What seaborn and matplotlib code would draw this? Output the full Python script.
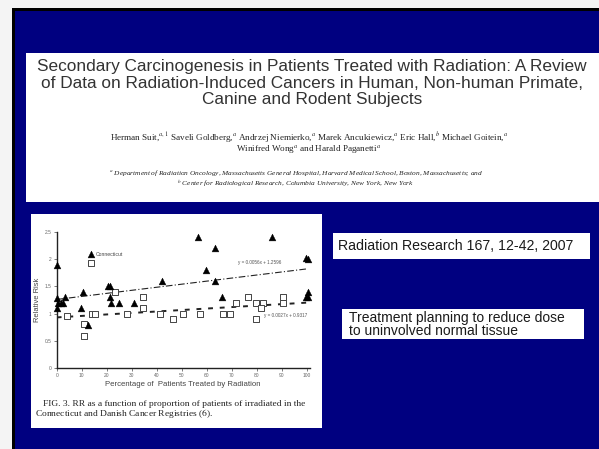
import numpy as np
import pandas as pd
import matplotlib
matplotlib.use("Agg")
import matplotlib.pyplot as plt
from matplotlib.patches import Rectangle
import seaborn as sns

# Connecticut registry (filled triangles)
tri_x = [0, 0, 0, 0.7, 1.6, 2.7, 3.5, 9.7, 10.4, 12.6, 13.7, 20.6, 21.4, 21.3, 21.5,
         25, 30.9, 42, 56.5, 59.6, 63.4, 63.3, 66, 85.9, 99.5, 100.5, 99.5, 100.5, 100.5]
tri_y = [1.89, 1.28, 1.1, 1.2, 1.2, 1.2, 1.3, 1.1, 1.4, 0.8, 2.09, 1.5, 1.5, 1.3, 1.2,
         1.2, 1.2, 1.6, 2.41, 1.8, 2.21, 1.6, 1.3, 2.41, 2.01, 2.0, 1.3, 1.3, 1.4]

# Danish registry (open squares)
sq_x = [4.3, 11, 11, 13.7, 14, 15.3, 23.4, 28.2, 34.3, 34.3, 41.2, 46.3, 50.5, 57.4,
        66.5, 69.4, 71.5, 76.6, 79.5, 82.4, 81.5, 79.8, 90.4, 90.4]
sq_y = [0.96, 0.81, 0.6, 1.93, 1.0, 1.0, 1.4, 1.0, 1.3, 1.11, 1.0, 0.91, 1.0, 1.0,
        1.0, 1.0, 1.2, 1.3, 1.2, 1.2, 1.11, 0.91, 1.3, 1.2]

# printed trend line equations
tri_fit = (0.0056, 1.2596)
sq_fit = (0.0027, 0.9317)

x_ticks = [0, 10, 20, 30, 40, 50, 60, 70, 80, 90, 100]
y_ticks = [0, 0.5, 1, 1.5, 2, 2.5]
y_tick_labels = ["0", "0.5", "1", "1.5", "2", "2.5"]

title_lines = ["Secondary Carcinogenesis in Patients Treated with Radiation: A Review",
               "of Data on Radiation-Induced Cancers in Human, Non-human Primate,",
               "Canine and Rodent Subjects"]
author_lines = ["Herman Suit,$^{a,1}$ Saveli Goldberg,$^{a}$ Andrzej Niemierko,$^{a}$ "
                "Marek Ancukiewicz,$^{a}$ Eric Hall,$^{b}$ Michael Goitein,$^{a}$",
                "Winifred Wong$^{a}$ and Harald Paganetti$^{a}$"]
affil_lines = ["$^{a}$ Department of Radiation Oncology, Massachusetts General Hospital, "
               "Harvard Medical School, Boston, Massachusetts; and",
               "$^{b}$ Center for Radiological Research, Columbia University, New York, New York"]
caption_lines = ["FIG. 3. RR as a function of proportion of patients of irradiated in the",
                 "Connecticut and Danish Cancer Registries ($\\it{6}$)."]

W, H = 599, 449
NAVY = "#000080"
SERIF = ["Liberation Serif", "DejaVu Serif"]


def box(fig, x0, y0, x1, y1, color):
    # pixel coords from top-left -> figure fraction
    fig.patches.append(Rectangle((x0 / W, 1 - y1 / H), (x1 - x0) / W, (y1 - y0) / H,
                                 transform=fig.transFigure, facecolor=color,
                                 edgecolor="none", zorder=-5))


def ftext(fig, x, y, s, **kw):
    fig.text(x / W, 1 - y / H, s, **kw)


sns.set_theme(style="ticks")
plt.rcParams["font.family"] = ["Liberation Sans", "DejaVu Sans"]
plt.rcParams["mathtext.fontset"] = "stix"

fig = plt.figure(figsize=(W / 100, H / 100), dpi=100, facecolor="#f4f4f4")

# slide frame
box(fig, 12, 8, W, H, "black")
box(fig, 14.5, 11, W, H, NAVY)
box(fig, 26, 53, W, 202, "white")
box(fig, 31, 214, 322, 428, "white")
box(fig, 333, 233, 590, 259, "white")
box(fig, 342, 309, 584, 339, "white")

# title block
for i, line in enumerate(title_lines):
    ftext(fig, 312, 67 + 16.3 * i, line, ha="center", va="center", fontsize=12.4,
          color="#333333")
for i, line in enumerate(author_lines):
    ftext(fig, 309, 138 + 12 * i, line, ha="center", va="center", fontsize=6.6,
          family=SERIF, color="#222222")
for i, line in enumerate(affil_lines):
    ftext(fig, 296, 173.5 + 10 * i, line, ha="center", va="center", fontsize=5.3,
          style="italic", family=SERIF, color="#222222")

# right-hand text boxes
ftext(fig, 338, 246, "Radiation Research 167, 12-42, 2007", ha="left", va="center",
      fontsize=10.2, color="#1a1a1a")
ftext(fig, 349, 324.5, "Treatment planning to reduce dose\nto uninvolved normal tissue",
      ha="left", va="center", fontsize=10.0, color="#1a1a1a", linespacing=0.97)

# the scanned chart
ax = fig.add_axes([56.7 / W, 1 - 368.3 / H, (309.5 - 56.7) / W, (368.3 - 231.7) / H])
ax.set_facecolor("white")

tri = pd.DataFrame({"pct": tri_x, "rr": tri_y})
sq = pd.DataFrame({"pct": sq_x, "rr": sq_y})

line_x = np.array([0, 100])
ax.plot(line_x, tri_fit[0] * line_x + tri_fit[1], color="#222222", lw=0.8,
        dashes=(6, 2, 1, 2), zorder=1)
ax.plot(line_x, sq_fit[0] * line_x + sq_fit[1], color="#222222", lw=1.4,
        dashes=(2.5, 3.5), zorder=1)

sns.scatterplot(data=sq, x="pct", y="rr", marker="s", s=19, facecolor="white",
                edgecolor="#444444", linewidth=0.7, ax=ax, zorder=2, clip_on=False)
sns.scatterplot(data=tri, x="pct", y="rr", marker="^", s=24, color="black",
                edgecolor="black", linewidth=0.3, ax=ax, zorder=3, clip_on=False)

ax.set_xlim(0, 101)
ax.set_ylim(0, 2.5)
ax.set_xticks(x_ticks)
ax.set_yticks(y_ticks)
ax.set_yticklabels(y_tick_labels)
ax.tick_params(labelsize=3.5, colors="#666666", length=2, width=0.6, pad=1.5)
for s in ["top", "right"]:
    ax.spines[s].set_visible(False)
for s in ["left", "bottom"]:
    ax.spines[s].set_color("#222222")
    ax.spines[s].set_linewidth(1.0)

ax.set_xlabel("Percentage of  Patients Treated by Radiation", fontsize=5.6,
              color="#444444", labelpad=2)
ax.set_ylabel("Relative Risk", fontsize=5.4, color="#444444", labelpad=3)

ax.text(15.5, 2.09, "Connecticut", fontsize=3.7, color="#444444", va="center")
ax.text(72.5, 1.93, "y = 0.0056x + 1.2596", fontsize=3.3, color="#555555", va="center")
ax.text(83, 0.97, "y = 0.0027x + 0.9317", fontsize=3.3, color="#555555", va="center")

ftext(fig, 43, 404, caption_lines[0], ha="left", va="center", fontsize=6.8,
      family=SERIF, color="#222222")
ftext(fig, 35, 413.5, caption_lines[1], ha="left", va="center", fontsize=6.8,
      family=SERIF, color="#222222")

fig.savefig("out.png", dpi=100, facecolor=fig.get_facecolor())
